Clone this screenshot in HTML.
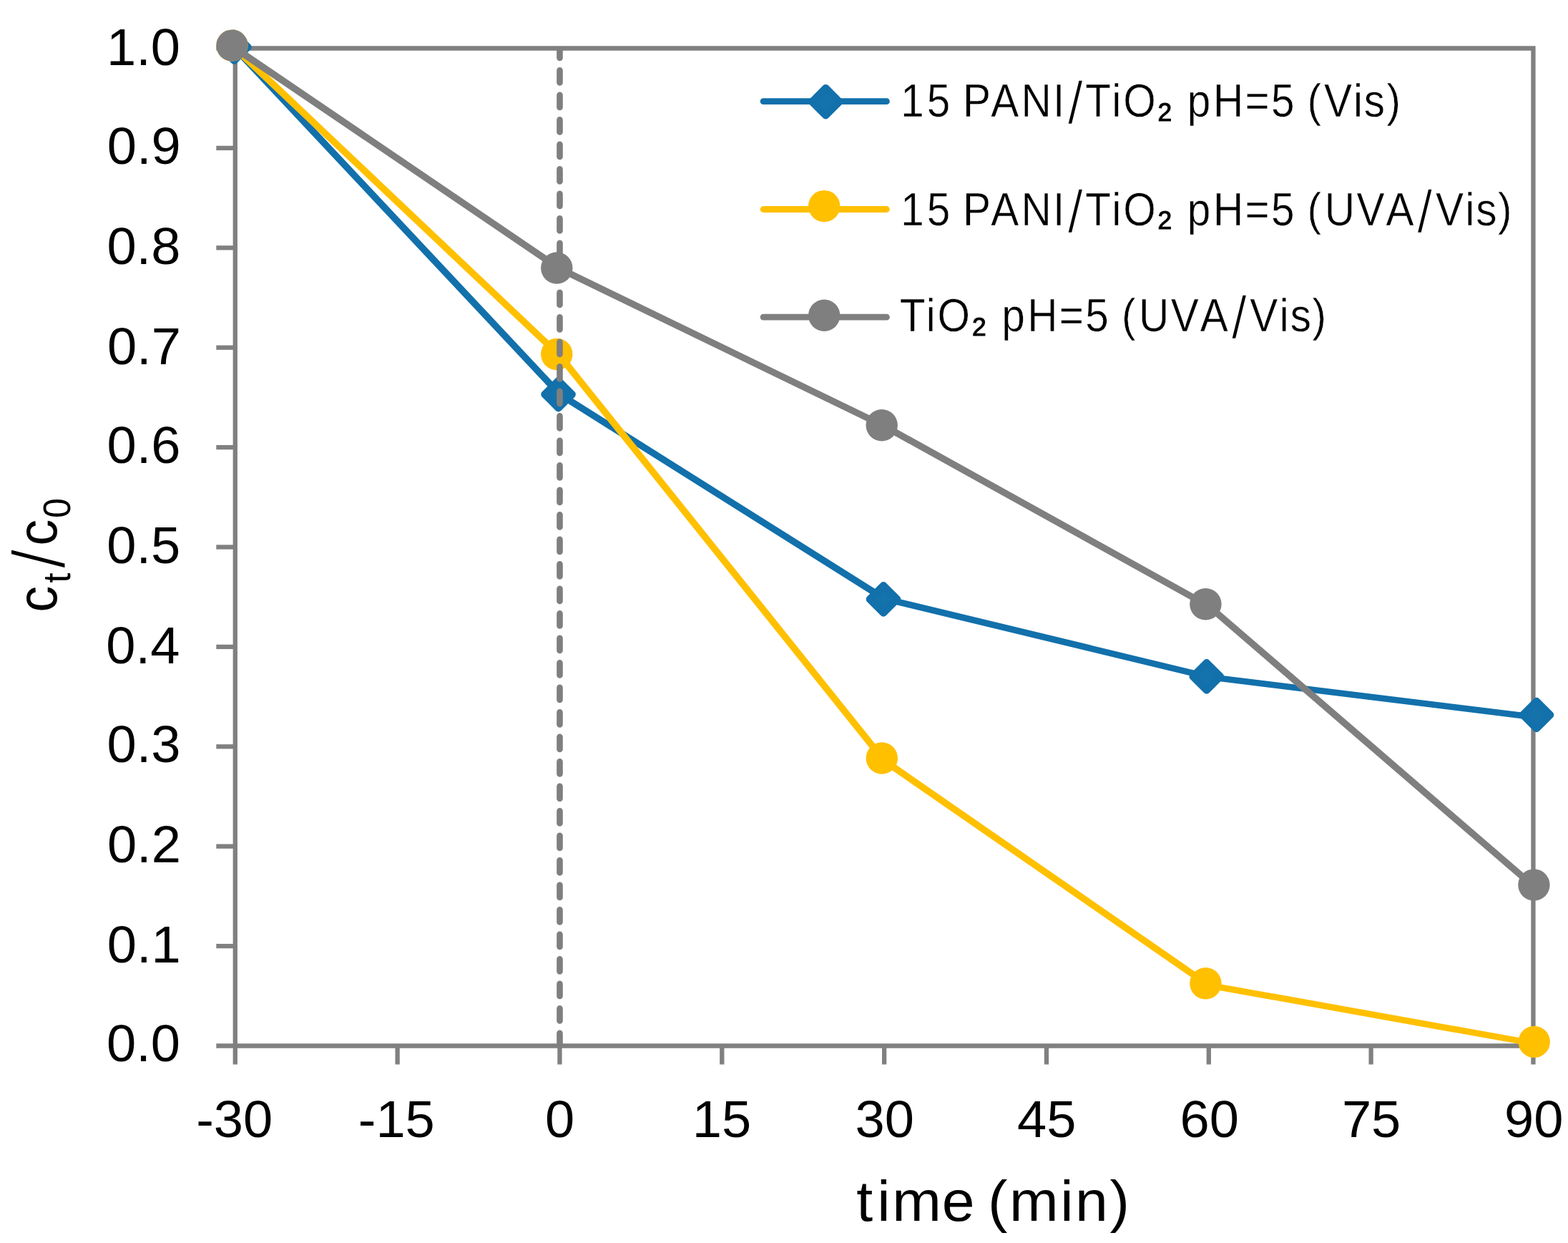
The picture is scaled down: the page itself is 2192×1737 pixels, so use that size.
<!DOCTYPE html>
<html lang="en">
<head>
<meta charset="utf-8">
<title>c_t/c_0 versus time (min)</title>
<style>
html,body{margin:0;padding:0;background:#fff}
body{width:2192px;height:1737px;overflow:hidden}
svg{display:block}
text{font-family:"Liberation Sans",sans-serif;fill:#000;font-kerning:none;white-space:pre}
</style>
</head>
<body>
<svg width="2192" height="1737" viewBox="0 0 2192 1737">
<rect width="2192" height="1737" fill="#fff"/>
<g fill="none" stroke="#808080" stroke-width="6.3">
<path d="M328.8 67.5H2143.45V1461.5"/>
<path d="M328.8 64.35V1487.5"/>
<path d="M302.3 1461.5H2146.6"/>
<path d="M302.3 1322.1H328.8"/>
<path d="M302.3 1182.7H328.8"/>
<path d="M302.3 1043.3H328.8"/>
<path d="M302.3 903.9H328.8"/>
<path d="M302.3 764.5H328.8"/>
<path d="M302.3 625.1H328.8"/>
<path d="M302.3 485.7H328.8"/>
<path d="M302.3 346.3H328.8"/>
<path d="M302.3 206.9H328.8"/>
<path d="M302.3 67.5H328.8"/>
<path d="M555.63 1461.5V1487.5"/>
<path d="M782.46 1461.5V1487.5"/>
<path d="M1009.29 1461.5V1487.5"/>
<path d="M1236.12 1461.5V1487.5"/>
<path d="M1462.96 1461.5V1487.5"/>
<path d="M1689.79 1461.5V1487.5"/>
<path d="M1916.62 1461.5V1487.5"/>
<path d="M2143.45 1461.5V1487.5"/>
</g>
<g fill="none" stroke="#1270ab" stroke-linecap="round">
<path d="M328.8 67.5L782.46 551" stroke-width="9.50"/>
<path d="M782.46 551L1236.12 836.5" stroke-width="9.40"/>
<path d="M1236.12 836.5L1689.79 946" stroke-width="8.96"/>
<path d="M1689.79 946L2143.45 1001.8" stroke-width="8.74"/>
</g>
<path d="M327.4 46.4L346.7 65.7L327.4 85L308.1 65.7Z" fill="#1672ab" stroke="#1270ab" stroke-width="10.0" stroke-linejoin="round"/>
<path d="M780.6 531.8L799.9 551.1L780.6 570.4L761.3 551.1Z" fill="#1672ab" stroke="#1270ab" stroke-width="10.0" stroke-linejoin="round"/>
<path d="M1235 818.1L1254.3 837.4L1235 856.7L1215.7 837.4Z" fill="#1672ab" stroke="#1270ab" stroke-width="10.0" stroke-linejoin="round"/>
<path d="M1686.8 926.1L1706.1 945.4L1686.8 964.7L1667.5 945.4Z" fill="#1672ab" stroke="#1270ab" stroke-width="10.0" stroke-linejoin="round"/>
<path d="M2148 979.7L2167.3 999L2148 1018.3L2128.7 999Z" fill="#1672ab" stroke="#1270ab" stroke-width="10.0" stroke-linejoin="round"/>
<g fill="none" stroke="#ffc000" stroke-linecap="round">
<path d="M328.8 67.5L782.46 497" stroke-width="9.50"/>
<path d="M782.46 497L1236.12 1063" stroke-width="9.48"/>
<path d="M1236.12 1063L1689.79 1376.8" stroke-width="9.44"/>
<path d="M1689.79 1376.8L2143.45 1458" stroke-width="8.85"/>
</g>
<circle cx="324.5" cy="63.6" r="22.2" fill="#ffc000"/>
<circle cx="778.3" cy="495" r="22.2" fill="#ffc000"/>
<circle cx="1232.8" cy="1059.5" r="22.2" fill="#ffc000"/>
<circle cx="1685.4" cy="1374.2" r="22.2" fill="#ffc000"/>
<circle cx="2144.7" cy="1455.9" r="22.2" fill="#ffc000"/>
<g fill="none" stroke="#7f7f7f" stroke-linecap="round">
<path d="M328.8 67.5L782.46 375.5" stroke-width="9.43"/>
<path d="M782.46 375.5L1236.12 595.4" stroke-width="9.29"/>
<path d="M1236.12 595.4L1689.79 847" stroke-width="9.35"/>
<path d="M1689.79 847L2143.45 1238" stroke-width="9.49"/>
</g>
<circle cx="324.5" cy="63.6" r="22.2" fill="#7f7f7f"/>
<circle cx="778.3" cy="374.5" r="22.2" fill="#7f7f7f"/>
<circle cx="1232.7" cy="594.2" r="22.2" fill="#7f7f7f"/>
<circle cx="1685.4" cy="844.2" r="22.2" fill="#7f7f7f"/>
<circle cx="2144.4" cy="1236.6" r="22.2" fill="#7f7f7f"/>
<path d="M782.5 69V1461" fill="none" stroke="#7f7f7f" stroke-width="8.6" stroke-linecap="round" stroke-dasharray="17 17.5" stroke-dashoffset="5.1"/>
<path d="M1067.1 141.7H1239.4" fill="none" stroke="#1270ab" stroke-width="8.8" stroke-linecap="round"/>
<path d="M1154.3 122.9L1173.6 142.2L1154.3 161.5L1135 142.2Z" fill="#1672ab" stroke="#1270ab" stroke-width="10.0" stroke-linejoin="round"/>
<path d="M1067.1 292.5H1239.4" fill="none" stroke="#ffc000" stroke-width="8.8" stroke-linecap="round"/>
<circle cx="1152.2" cy="288.1" r="22.2" fill="#ffc000"/>
<path d="M1067.1 443.2H1239.4" fill="none" stroke="#7f7f7f" stroke-width="8.8" stroke-linecap="round"/>
<circle cx="1152.2" cy="440.8" r="22.2" fill="#7f7f7f"/>
<text transform="translate(0 163.3) scale(0.9 1)" x="1399.04 1439.66 1475.81 1495.59 1539.04 1586.18 1635.69 1658.55 1685.83 1726.96 1744.68 1797.36 1821.42 1844.25 1884.4 1933.76 1974.32 2010.47 2030.52 2056.54 2102.3 2118.69 2153.78" dy="0 0 0 0 0 0 0 10 -10 0 0 0.75 -0.75 0 0 0 0 0 0 0 0 0 0" font-size="65.0" stroke="#fff" stroke-width="0.5">15 PANI<tspan font-size="84" stroke-width="1.5">/</tspan>TiO<tspan font-size="62" stroke="#000" stroke-width="1.2">₂</tspan> pH=5 (Vis)</text>
<text transform="translate(0 314.5) scale(0.9 1)" x="1399.04 1439.66 1475.81 1495.59 1539.04 1586.18 1635.69 1658.55 1685.83 1726.96 1744.68 1797.36 1821.42 1844.25 1884.4 1933.76 1974.32 2010.47 2030.69 2057.42 2107.1 2152.71 2201.44 2229.93 2275.91 2292.63 2326.72" dy="0 0 0 0 0 0 0 10 -10 0 0 0.75 -0.75 0 0 0 0 0 0 0 0 0 10 -10 0 0 0" font-size="65.0" stroke="#fff" stroke-width="0.5">15 PANI<tspan font-size="84" stroke-width="1.5">/</tspan>TiO<tspan font-size="62" stroke="#000" stroke-width="1.2">₂</tspan> pH=5 (UVA<tspan font-size="84" stroke-width="1.5">/</tspan>Vis)</text>
<text transform="translate(0 463.3) scale(0.9 1)" x="1397.39 1438.52 1456.24 1508.91 1532.98 1555.81 1595.96 1645.31 1685.88 1722.03 1742.24 1768.97 1818.66 1864.27 1913 1941.49 1987.46 2004.19 2038.28" dy="0 0 0 0.75 -0.75 0 0 0 0 0 0 0 0 0 10 -10 0 0 0" font-size="65.0" stroke="#fff" stroke-width="0.5">TiO<tspan font-size="62" stroke="#000" stroke-width="1.2">₂</tspan> pH=5 (UVA<tspan font-size="84" stroke-width="1.5">/</tspan>Vis)</text>
<text transform="translate(149.09 1483) scale(1.015 1)" font-size="73">0.0</text>
<text transform="translate(149.82 1345) scale(1.015 1)" font-size="73">0.1</text>
<text transform="translate(149.92 1205) scale(1.015 1)" font-size="73">0.2</text>
<text transform="translate(149.45 1065) scale(1.015 1)" font-size="73">0.3</text>
<text transform="translate(148.37 927.2) scale(1.015 1)" font-size="73">0.4</text>
<text transform="translate(149.31 787.2) scale(1.015 1)" font-size="73">0.5</text>
<text transform="translate(149.45 647.2) scale(1.015 1)" font-size="73">0.6</text>
<text transform="translate(149.92 509.1) scale(1.015 1)" font-size="73">0.7</text>
<text transform="translate(149.42 369.1) scale(1.015 1)" font-size="73">0.8</text>
<text transform="translate(149.71 229.1) scale(1.015 1)" font-size="73">0.9</text>
<text transform="translate(149.09 91.1) scale(1.015 1)" font-size="73">1.0</text>
<text transform="translate(274.16 1588.9) scale(1.015 1)" font-size="73">-30</text>
<text transform="translate(500.71 1588.9) scale(1.015 1)" font-size="73">-15</text>
<text transform="translate(761.95 1588.9) scale(1.015 1)" font-size="73">0</text>
<text transform="translate(967.83 1588.9) scale(1.015 1)" font-size="73">15</text>
<text transform="translate(1195.53 1588.9) scale(1.015 1)" font-size="73">30</text>
<text transform="translate(1421.95 1588.9) scale(1.015 1)" font-size="73">45</text>
<text transform="translate(1649.51 1588.9) scale(1.015 1)" font-size="73">60</text>
<text transform="translate(1875.9 1588.9) scale(1.015 1)" font-size="73">75</text>
<text transform="translate(2102.95 1588.9) scale(1.015 1)" font-size="73">90</text>
<text transform="translate(0 1705.5) scale(1.03 1)" x="1162.51 1190.5 1210.93 1278.51 1323 1340.74 1370.01 1439.14 1459.3 1506.21" font-size="80">time (min)</text>
<text transform="translate(78.8 852.5) rotate(-90) scale(0.94 1)" font-size="78" x="-3.32 40.44 61.67 95.72 136.61" dy="0 19.4 -8.4 -11 19.4">c<tspan font-size="53.5">t</tspan><tspan font-size="104" stroke="#fff" stroke-width="2">/</tspan>c<tspan font-size="53.5">0</tspan></text>
</svg>
</body>
</html>
